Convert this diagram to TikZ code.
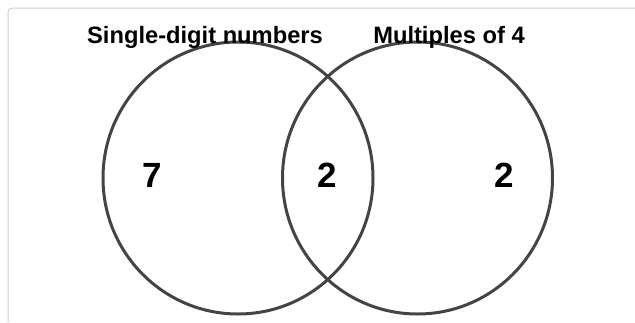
\documentclass[tikz,border=0pt]{standalone}
\usepackage{fontspec}
\setmainfont{Liberation Sans}
\usetikzlibrary{shapes.geometric}
\definecolor{ring}{HTML}{444444}
\definecolor{frame}{HTML}{CCCCCC}
\begin{document}
\begin{tikzpicture}[x=1pt,y=-1pt,
  setring/.style={ellipse,draw=ring,line width=3pt,minimum width=270pt,minimum height=272pt,inner sep=0pt},
  setlabel/.style={anchor=base,inner sep=0pt,font=\fontsize{23.7}{28}\selectfont\bfseries},
  count/.style={inner sep=0pt,font=\fontsize{35}{40}\selectfont\bfseries}]
\useasboundingbox (0,0) rectangle (635,322);
\draw[frame,line width=1pt,rounded corners=4pt] (8,322) -- (8,8) -- (635,8);
\node[setring] (A) at (238,178) {};
\node[setring] (B) at (417.5,178) {};
\node[setlabel] (la) at (205,43) {Single-digit numbers};
\node[setlabel] (lb) at (449,43) {Multiples of 4};
\node[count] (n1) at (152,175.5) {7};
\node[count] (n2) at (327.5,175.5) {2};
\node[count] (n3) at (504,175.5) {2};
\end{tikzpicture}
\end{document}
